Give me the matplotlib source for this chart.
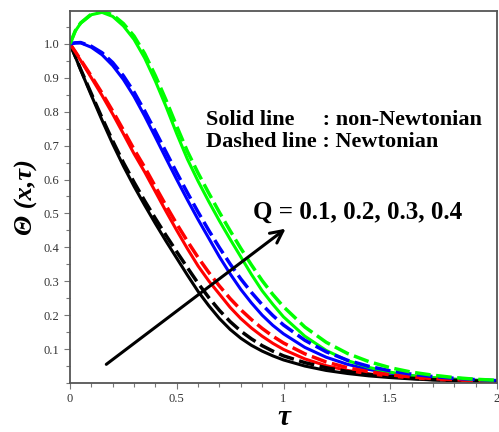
import matplotlib

matplotlib.use("Agg")
import matplotlib.pyplot as plt
from matplotlib.ticker import MultipleLocator, FixedLocator

plt.rcParams["font.family"] = ["Liberation Serif", "DejaVu Serif"]

# --- data ------------------------------------------------------------------
TAU = [0, 0.025, 0.05, 0.1, 0.15, 0.2, 0.25, 0.3, 0.35, 0.4, 0.45, 0.5,
       0.55, 0.6, 0.65, 0.7, 0.75, 0.8, 0.85, 0.9, 0.95, 1.0,
       1.1, 1.2, 1.3, 1.4, 1.5, 1.6, 1.7, 1.8, 1.9, 2.0]

# solid = non-Newtonian, dashed = Newtonian; Q = 0.1, 0.2, 0.3, 0.4
Q1_SOLID = [1.0, 0.962, 0.923, 0.848, 0.775, 0.705, 0.64, 0.58, 0.524, 0.47, 0.418, 0.368,
            0.318, 0.27, 0.228, 0.19, 0.158, 0.132, 0.111, 0.094, 0.08, 0.068,
            0.05, 0.037, 0.028, 0.021, 0.016, 0.012, 0.009, 0.007, 0.005, 0.004]
Q1_DASH = [1.0, 0.963, 0.925, 0.853, 0.782, 0.714, 0.65, 0.592, 0.537, 0.485, 0.435, 0.387,
           0.34, 0.294, 0.252, 0.214, 0.181, 0.153, 0.13, 0.11, 0.094, 0.08,
           0.06, 0.045, 0.034, 0.025, 0.019, 0.014, 0.01, 0.008, 0.006, 0.004]
Q2_SOLID = [1.0, 0.976, 0.951, 0.9, 0.848, 0.793, 0.735, 0.676, 0.622, 0.564, 0.506, 0.45,
            0.396, 0.345, 0.301, 0.262, 0.223, 0.19, 0.162, 0.138, 0.117, 0.099,
            0.071, 0.051, 0.037, 0.027, 0.02, 0.015, 0.011, 0.008, 0.006, 0.005]
Q2_DASH = [1.0, 0.977, 0.953, 0.905, 0.855, 0.802, 0.746, 0.689, 0.636, 0.579, 0.523, 0.469,
           0.418, 0.37, 0.326, 0.286, 0.249, 0.216, 0.187, 0.161, 0.138, 0.118,
           0.086, 0.062, 0.045, 0.033, 0.024, 0.018, 0.013, 0.01, 0.007, 0.006]
Q3_SOLID = [1.0, 1.003, 1.003, 0.99, 0.968, 0.936, 0.895, 0.845, 0.787, 0.725, 0.662, 0.6,
            0.54, 0.482, 0.427, 0.372, 0.322, 0.276, 0.236, 0.2, 0.17, 0.145,
            0.105, 0.076, 0.055, 0.04, 0.029, 0.021, 0.015, 0.011, 0.008, 0.006]
Q3_DASH = [1.0, 1.003, 1.004, 0.993, 0.974, 0.945, 0.906, 0.858, 0.802, 0.742, 0.681, 0.62,
           0.561, 0.504, 0.45, 0.399, 0.351, 0.307, 0.267, 0.231, 0.199, 0.171,
           0.126, 0.092, 0.067, 0.049, 0.036, 0.026, 0.019, 0.014, 0.01, 0.007]
Q4_SOLID = [1.0, 1.038, 1.061, 1.086, 1.093, 1.081, 1.053, 1.013, 0.958, 0.89, 0.815, 0.735,
            0.66, 0.595, 0.535, 0.478, 0.424, 0.372, 0.32, 0.272, 0.232, 0.195,
            0.138, 0.096, 0.066, 0.046, 0.032, 0.022, 0.016, 0.011, 0.008, 0.006]
Q4_DASH = [1.0, 1.039, 1.062, 1.088, 1.096, 1.086, 1.06, 1.023, 0.971, 0.906, 0.834, 0.757,
           0.683, 0.619, 0.56, 0.503, 0.449, 0.397, 0.348, 0.302, 0.261, 0.225,
           0.165, 0.12, 0.087, 0.063, 0.045, 0.032, 0.023, 0.016, 0.011, 0.008]

SOLIDS = [Q1_SOLID, Q2_SOLID, Q3_SOLID, Q4_SOLID]
DASHES = [Q1_DASH, Q2_DASH, Q3_DASH, Q4_DASH]
COLORS = ["black", "#FF0000", "#0000FF", "#00FF00"]

XTICKS = [0, 0.5, 1, 1.5, 2]
XTICK_LABELS = ["0", "0.5", "1", "1.5", "2"]
YTICKS = [0.1, 0.2, 0.3, 0.4, 0.5, 0.6, 0.7, 0.8, 0.9, 1.0]

ARROW_FROM = (0.17, 0.055)
ARROW_TO = (1.01, 0.455)

# --- figure ----------------------------------------------------------------
fig = plt.figure(figsize=(4.99, 4.32), dpi=100)
ax = fig.add_axes([70 / 499, 49 / 432, 427 / 499, 372 / 432])

for ys, c in zip(SOLIDS, COLORS):
    ax.plot(TAU, ys, color=c, lw=2.2, solid_joinstyle="round")
for ys, c in zip(DASHES, COLORS):
    ax.plot(TAU, ys, color=c, lw=2.5, dashes=(4.5, 1.6))

ax.set_xlim(0, 2.0)
ax.set_ylim(0, 1.097)

ax.set_xticks(XTICKS)
ax.set_xticklabels(XTICK_LABELS)
ax.xaxis.set_minor_locator(MultipleLocator(0.1))
ax.yaxis.set_major_locator(FixedLocator(YTICKS))
ax.set_yticklabels([f"{v:.1f}" for v in YTICKS])
ax.yaxis.set_minor_locator(MultipleLocator(0.05))

for s in ax.spines.values():
    s.set_color("#555555")
    s.set_linewidth(1.3)
ax.tick_params(which="both", direction="out", color="#777777", labelsize=9,
               labelcolor="#333333", width=0.8)
ax.tick_params(which="major", length=4)
ax.tick_params(which="minor", length=3)

ax.set_xlabel("τ", fontsize=21, fontweight="bold", fontstyle="italic", labelpad=-1)
ax.set_ylabel("Θ (x,τ)", fontsize=19, fontweight="bold", fontstyle="italic",
              labelpad=4)

ax.text(0.635, 0.76, "Solid line     : non-Newtonian", fontsize=16,
        fontweight="bold", ha="left", va="baseline")
ax.text(0.635, 0.696, "Dashed line : Newtonian", fontsize=16,
        fontweight="bold", ha="left", va="baseline")
ax.text(0.855, 0.484, "Q = 0.1, 0.2, 0.3, 0.4", fontsize=18,
        fontweight="bold", ha="left", va="baseline")

ax.annotate("", xy=ARROW_TO, xytext=ARROW_FROM,
            arrowprops=dict(arrowstyle="->", lw=2.2, color="black",
                            mutation_scale=22, shrinkA=0, shrinkB=0))

fig.savefig("out.png", dpi=100)
